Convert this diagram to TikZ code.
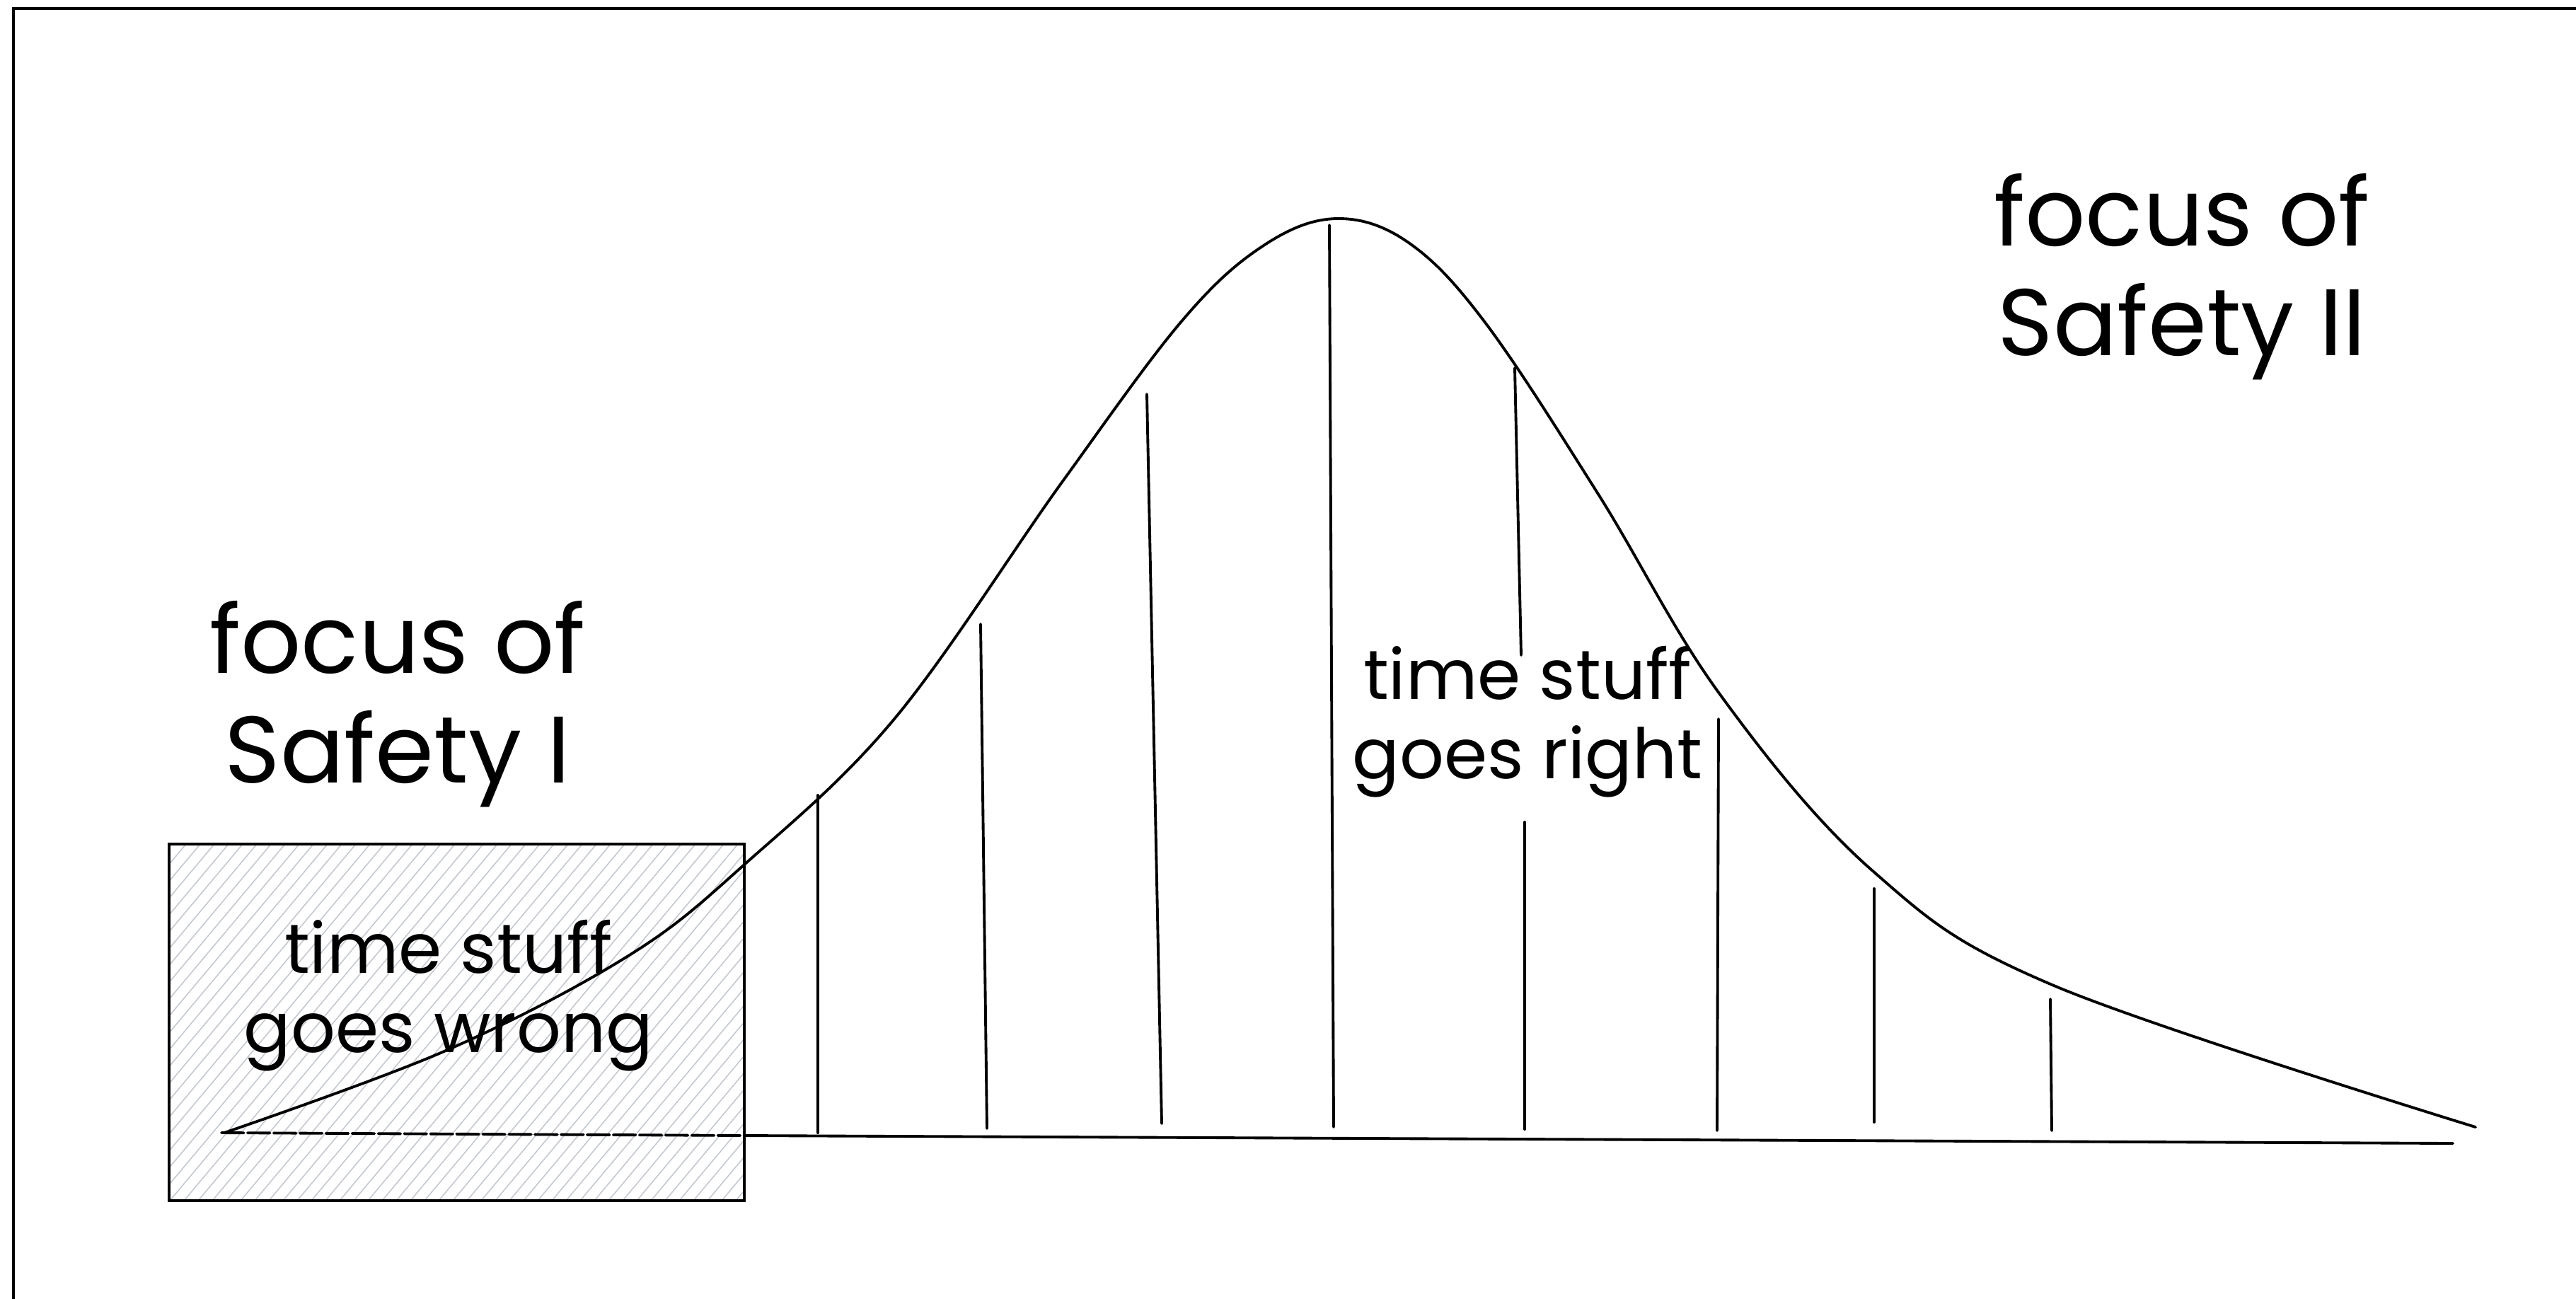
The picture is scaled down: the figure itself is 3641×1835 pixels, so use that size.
\documentclass[tikz,border=0pt]{standalone}
\usepackage{fontspec}
\setmainfont{Poppins}
\usepackage{xcolor}
\definecolor{hatchgray}{RGB}{196,200,208}
\tikzset{
    border/.style={draw=black, line width=1.2pt},
    bell/.style={draw=black, line width=1.1pt, line join=round, line cap=round},
    vline/.style={draw=black, line width=1.1pt, line cap=round},
    hatch/.style={draw=hatchgray, line width=0.45pt},
    bigtxt/.style={font=\fontsize{38}{44}\selectfont, align=center},
    smalltxt/.style={font=\fontsize{28}{32}\selectfont, align=center},
}

\begin{document}
\begin{tikzpicture}[x=0.01cm, y=-0.01cm]
    \useasboundingbox (0,0) rectangle (3641,1835);
    \clip (0,0) rectangle (3641,1835);
    \draw[border] (19,12) rectangle (3700,1900);

    % Safety I box, hatched
    \coordinate (boxNW) at (239,1193);
    \coordinate (boxSE) at (1052,1697);
    \begin{scope}
        \clip (boxNW) rectangle (boxSE);
        \foreach \x in {-200,-180,...,1060}
            \draw[hatch] (\x,1697) -- ++(423,-504);
    \end{scope}
    \draw[border, line width=1pt] (boxNW) rectangle (boxSE);

    % Baseline
    \coordinate (base0) at (313,1601);
    \coordinate (baseR) at (1052,1605);
    \coordinate (base1) at (3467,1616);
    \draw[bell, dash pattern=on 9pt off 1.5pt] (base0) -- (baseR);
    \draw[bell] (baseR) -- (base1);

    % Bell curve
    \draw[bell] plot[smooth, tension=0.6] coordinates {
        (317,1601) (630,1485) (888,1351) (1052,1222) (1265,1015)
        (1500,683) (1671,453) (1786,347) (1889,309) (1991,343)
        (2100,457) (2260,700) (2430,980) (2647,1231) (2903,1393)
        (3499,1593)};

    % Vertical strokes under the curve
    \foreach \xa/\ya/\xb/\yb in {1156/1124/1156/1601, 1386/882/1395/1595,
        1621/557/1642/1588, 1879/318/1885/1593, 2141/520/2150/926,
        2155/1162/2155/1596, 2429/1016/2427/1598, 2649/1256/2649/1586,
        2898/1412/2900/1598}
        \draw[vline] (\xa,\ya) -- (\xb,\yb);

    % Labels
    \node[bigtxt]   (focusI)  at (562,995)  {focus of\\Safety I};
    \node[bigtxt]   (focusII) at (3084,391) {focus of\\Safety II};
    \node[smalltxt] (right)   at (2159,1020) {time stuff\\goes right};
    \node[smalltxt] (wrong)   at (634,1407) {time stuff\\goes wrong};
\end{tikzpicture}
\end{document}
